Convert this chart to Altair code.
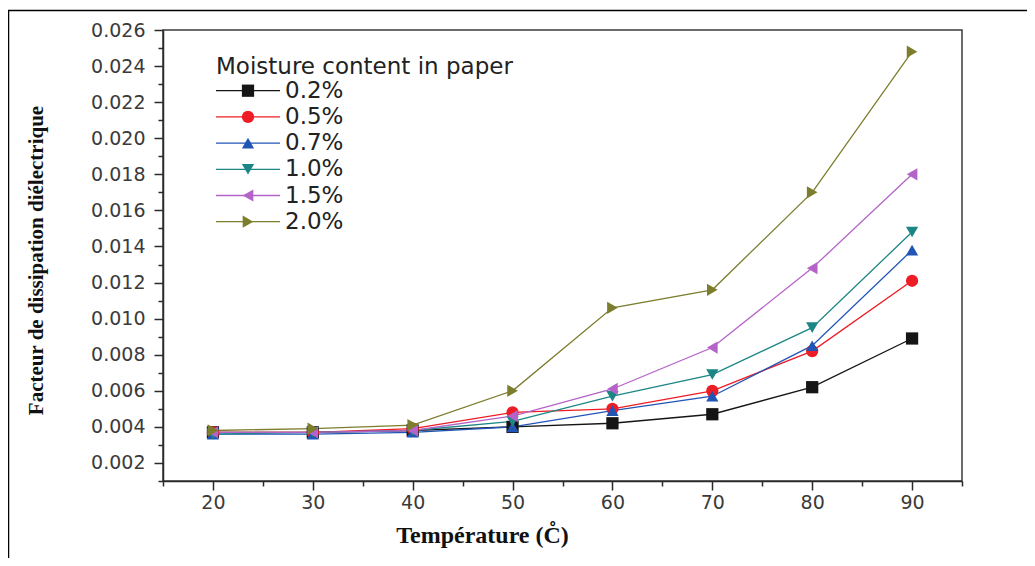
import altair as alt
import pandas as pd

temperature = [20, 30, 40, 50, 60, 70, 80, 90]
series_names = ["0.2%", "0.5%", "0.7%", "1.0%", "1.5%", "2.0%"]
m02 = [0.0037, 0.0037, 0.0038, 0.0040, 0.0042, 0.0047, 0.0062, 0.0089]
m05 = [0.0037, 0.0037, 0.0039, 0.0048, 0.0050, 0.0060, 0.0082, 0.0121]
m07 = [0.0036, 0.0036, 0.0037, 0.0040, 0.0049, 0.0057, 0.0085, 0.0138]
m10 = [0.0036, 0.0037, 0.0038, 0.0043, 0.0057, 0.0069, 0.0095, 0.0148]
m15 = [0.0037, 0.0037, 0.0038, 0.0046, 0.0061, 0.0084, 0.0128, 0.0180]
m20 = [0.0038, 0.0039, 0.0041, 0.0060, 0.0106, 0.0116, 0.0170, 0.0248]
series_values = [m02, m05, m07, m10, m15, m20]

colors = ["#151515", "#ee1c24", "#2155b5", "#1c8585", "#b463c8", "#7d7d2e"]
shapes = ["square", "circle", "triangle-up", "triangle-down", "triangle-left", "triangle-right"]

x_tick_values = [15, 20, 25, 30, 35, 40, 45, 50, 55, 60, 65, 70, 75, 80, 85, 90, 95]
y_tick_values = [0.001, 0.002, 0.003, 0.004, 0.005, 0.006, 0.007, 0.008, 0.009,
                 0.010, 0.011, 0.012, 0.013, 0.014, 0.015, 0.016, 0.017, 0.018,
                 0.019, 0.020, 0.021, 0.022, 0.023, 0.024, 0.025, 0.026]

legend_title = "Moisture content in paper"
x_title = "Température (C\u030a)"
y_title = "Facteur de dissipation diélectrique"

rows = []
for name, vals in zip(series_names, series_values):
    for t, v in zip(temperature, vals):
        rows.append({"T": t, "V": v, "series": name})
df = pd.DataFrame(rows)
legend_df = pd.DataFrame({"series": series_names})

color_scale = alt.Scale(domain=series_names, range=colors)
shape_scale = alt.Scale(domain=series_names, range=shapes)

x_enc = alt.X(
    "T:Q",
    scale=alt.Scale(domain=[15, 95], nice=False, zero=False),
    axis=alt.Axis(
        values=x_tick_values,
        tickCount=40,
        format="d",
        labelExpr="(datum.value % 10 === 0 && datum.value >= 20 && datum.value <= 90) ? datum.label : ''",
        tickSize={"condition": {"test": "datum.value % 10 === 0", "value": 9}, "value": 5},
        labelPadding=3,
        labelOverlap=False,
        title=x_title,
        titleX=319,
        titleY=54,
        titleAlign="center",
        titleBaseline="middle",
        titleFont="Liberation Serif",
        titleFontSize=24,
        titleFontWeight="bold",
        titleColor="#111111",
    ),
)
y_enc = alt.Y(
    "V:Q",
    scale=alt.Scale(domain=[0.001, 0.026], nice=False, zero=False),
    axis=alt.Axis(
        values=y_tick_values,
        tickCount=60,
        format=".3f",
        labelExpr="(round(datum.value * 1000) % 2 === 0 && datum.value > 0.0015) ? datum.label : ''",
        tickSize={"condition": {"test": "round(datum.value * 1000) % 2 === 0", "value": 9}, "value": 5},
        labelPadding=9,
        labelOverlap=False,
        title=y_title,
        titleX=-127,
        titleY=230,
        titleAngle=270,
        titleAlign="center",
        titleBaseline="middle",
        titleFont="Liberation Serif",
        titleFontSize=21,
        titleFontWeight="bold",
        titleColor="#111111",
    ),
)

lines = alt.Chart(df).mark_line(strokeWidth=1.3).encode(
    x=x_enc,
    y=y_enc,
    color=alt.Color("series:N", scale=color_scale, legend=None),
    detail="series:N",
)
points = alt.Chart(df).mark_point(filled=True, size=150, opacity=1).encode(
    x="T:Q",
    y="V:Q",
    color=alt.Color("series:N", scale=color_scale, legend=None),
    shape=alt.Shape("series:N", scale=shape_scale, legend=None),
)
main = alt.layer(lines, points)

leg_y = alt.Y("series:N", sort=series_names,
              scale=alt.Scale(type="point", range=[60.7, 191.7], padding=0), axis=None)
leg_rules = alt.Chart(legend_df).mark_rule(strokeWidth=1.3).encode(
    x=alt.value(53), x2=alt.value(117), y=leg_y,
    color=alt.Color("series:N", scale=color_scale, legend=None),
)
leg_points = alt.Chart(legend_df).mark_point(filled=True, size=150, opacity=1).encode(
    x=alt.value(85), y=leg_y,
    color=alt.Color("series:N", scale=color_scale, legend=None),
    shape=alt.Shape("series:N", scale=shape_scale, legend=None),
)
leg_text = alt.Chart(legend_df).mark_text(
    align="left", baseline="middle", font="DejaVu Sans", fontSize=23, color="#222222"
).encode(x=alt.value(122), y=leg_y, text="series:N")
leg_title = alt.Chart(pd.DataFrame({"t": [legend_title]})).mark_text(
    align="left", baseline="middle", font="DejaVu Sans", fontSize=23, color="#222222"
).encode(x=alt.value(53), y=alt.value(36.7), text="t:N")
legend = alt.layer(leg_rules, leg_points, leg_text, leg_title)

border_df = pd.DataFrame({"k": [0]})
border_left = alt.Chart(border_df).mark_rule(color="#000000", strokeWidth=1.5).encode(
    x=alt.value(-154.5), y=alt.value(-20), y2=alt.value(700)
)
border_top = alt.Chart(border_df).mark_rule(color="#000000", strokeWidth=1.5).encode(
    x=alt.value(-156), x2=alt.value(1000), y=alt.value(-19.5)
)

chart = alt.layer(main, legend, border_left, border_top).resolve_scale(
    y="independent"
).properties(
    width=799,
    height=451,
    autosize=alt.AutoSizeParams(type="none"),
    padding={"left": 155, "top": 22, "right": 65, "bottom": 77},
    background="white",
).configure_view(
    stroke="#3a3a3a", strokeWidth=1.5
).configure_axis(
    grid=False,
    domainColor="#2a2a2a",
    domainWidth=1.5,
    tickColor="#2a2a2a",
    tickWidth=1.5,
    labelFont="DejaVu Sans",
    labelFontSize=19,
    labelColor="#3a3a3a",
)

chart.save("out.html", embed_options={"renderer": "svg", "actions": False})
